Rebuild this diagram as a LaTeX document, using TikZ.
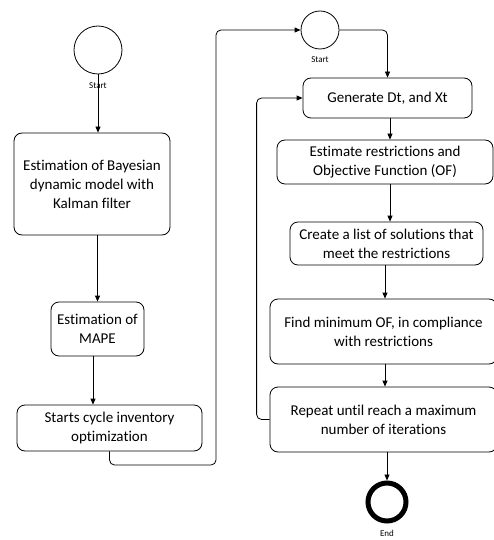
\documentclass[tikz,border=0pt]{standalone}
\usepackage{fontspec}
\setmainfont{Carlito}[Ligatures={NoCommon}]
\usetikzlibrary{arrows.meta}
\begin{document}
\begin{tikzpicture}[x=1pt,y=-1pt,
  box/.style={draw, rounded corners=8pt, line width=0.8pt, align=center, inner sep=0pt,
              font=\fontsize{15}{19}\selectfont},
  arr/.style={-{Triangle[length=6pt,width=5pt]}, line width=0.8pt},
  lbl/.style={font=\fontsize{9}{10}\selectfont, inner sep=0pt},
  startc/.style={circle, draw, line width=0.8pt, inner sep=0pt},
  endc/.style={circle, draw, line width=5pt, inner sep=0pt}]
\useasboundingbox (0,0) rectangle (494,540);
\clip (0,0) rectangle (494,540);

% left column
\node[startc, minimum size=48pt] (s1) at (98,50) {};
\node[lbl] (s1l) at (98,86) {Start};
\node[box, minimum width=156pt, minimum height=102pt] (b1) at (92,184)
  {Estimation of Bayesian\\dynamic model with\\Kalman filter};
\node[box, minimum width=93pt, minimum height=54pt] (b2) at (97.5,329)
  {Estimation of\\MAPE};
\node[box, minimum width=185pt, minimum height=46pt] (b3) at (109.5,428)
  {Starts cycle inventory\\optimization};

% right column
\node[startc, minimum size=38pt] (s2) at (320,30) {};
\node[lbl] (s2l) at (320,60) {Start};
\node[box, minimum width=169pt, minimum height=40pt] (g) at (387.5,98)
  {Generate Dt, and Xt};
\node[box, minimum width=216pt, minimum height=44pt] (e) at (385,162)
  {Estimate restrictions and\\Objective Function (OF)};
\node[box, minimum width=193pt, minimum height=43pt] (c) at (386.5,243.5)
  {Create a list of solutions that\\meet the restrictions};
\node[box, minimum width=227pt, minimum height=65pt] (f) at (383.5,331.5)
  {Find minimum OF, in compliance\\with restrictions};
\node[box, minimum width=227pt, minimum height=65pt] (r) at (383.5,419.5)
  {Repeat until reach a maximum\\number of iterations};
\node[endc, minimum size=38pt] (end) at (387,502) {};
\node[lbl] (endl) at (387,533.5) {End};

% connectors
\draw[arr] (s1.south) -- (s1.south |- b1.north);
\draw[arr] (b2.north |- b1.south) -- (b2.north);
\draw[arr] ([xshift=-4.5pt]b2.south) -- ([xshift=-4.5pt]b2.south |- b3.north);
\draw[arr, rounded corners=5pt] (b3.south) |- (216,465) |- (s2.west);
\draw[arr, rounded corners=5pt] (s2.east) -| (g.north);
\draw[arr] ([xshift=2.5pt]g.south) -- ([xshift=2.5pt]g.south |- e.north);
\draw[arr] ([xshift=2.5pt]g.south |- e.south) -- ([xshift=2.5pt]g.south |- c.north);
\draw[arr] ([xshift=-1.5pt]c.south) -- ([xshift=-1.5pt]c.south |- f.north);
\draw[arr] ([xshift=1.5pt]f.south) -- ([xshift=1.5pt]f.south |- r.north);
\draw[arr] (end.north |- r.south) -- (end.north);
\draw[arr, rounded corners=5pt] (r.west) -- ++(-13,0) |- (g.west);
\end{tikzpicture}
\end{document}
